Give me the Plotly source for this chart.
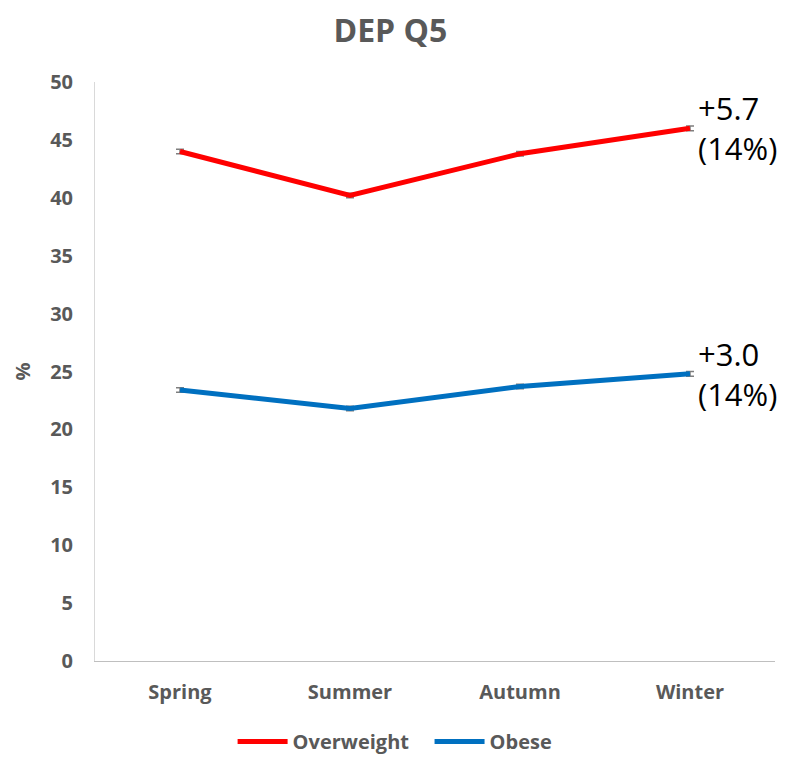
import plotly.graph_objects as go

seasons = ["Spring", "Summer", "Autumn", "Winter"]
overweight = [44.0, 40.2, 43.8, 46.0]
obese = [23.4, 21.8, 23.7, 24.8]
err = [0.2, 0.2, 0.2, 0.2]
ow_label = "+5.7<br>(14%)"
ob_label = "+3.0<br>(14%)"

font_gray = "#595959"

fig = go.Figure()
fig.add_trace(go.Scatter(
    x=seasons, y=overweight, name="<b>Overweight</b>&nbsp;&nbsp;&nbsp;", mode="lines",
    line=dict(color="#ff0000", width=5),
    error_y=dict(type="data", array=err, color="#7f7f7f", thickness=1.5, width=4),
))
fig.add_trace(go.Scatter(
    x=seasons, y=obese, name="<b>Obese</b>", mode="lines",
    line=dict(color="#0070c0", width=5),
    error_y=dict(type="data", array=err, color="#7f7f7f", thickness=1.5, width=4),
))

for y, txt in [(overweight[-1], ow_label), (obese[-1], ob_label)]:
    fig.add_annotation(
        x=seasons[-1], y=y, text=txt, showarrow=False,
        xanchor="left", yanchor="middle", align="left", xshift=6,
        font=dict(family="Open Sans", size=31, color="black"),
    )

fig.update_layout(
    width=790, height=757,
    paper_bgcolor="white", plot_bgcolor="white",
    margin=dict(l=87, r=23, t=74, b=104),
    title=dict(text="<b>DEP Q5</b>", x=0.484, xanchor="center", y=0.970, yanchor="middle",
               font=dict(family="Open Sans", size=32, color=font_gray)),
    font=dict(family="Open Sans", color=font_gray),
    legend=dict(orientation="h", x=0.49, xanchor="center", xref="container",
                y=0.031, yanchor="middle", yref="container",
                font=dict(size=20, color=font_gray), itemwidth=50, tracegroupgap=10),
    showlegend=True,
)
fig.update_xaxes(
    range=[-0.5, 3.5], automargin=False,
    showgrid=False, showline=True, linecolor="#bfbfbf", linewidth=1,
    tickfont=dict(size=20, family="Open Sans", color=font_gray),
    ticks="outside", ticklen=13, tickcolor="white",
    tickprefix="<b>", ticksuffix="</b>", fixedrange=True,
)
fig.update_yaxes(
    range=[0, 50], dtick=5, showgrid=False, zeroline=False, automargin=False,
    showline=True, linecolor="#d9d9d9", linewidth=1,
    tickfont=dict(size=20, family="Open Sans", color=font_gray),
    tickprefix="<b>", ticksuffix="</b>", ticklen=17, ticks="outside", tickcolor="white",
    title=dict(text="<b>%</b>", font=dict(size=20, color=font_gray), standoff=14),
)

fig.write_html("out.html")
